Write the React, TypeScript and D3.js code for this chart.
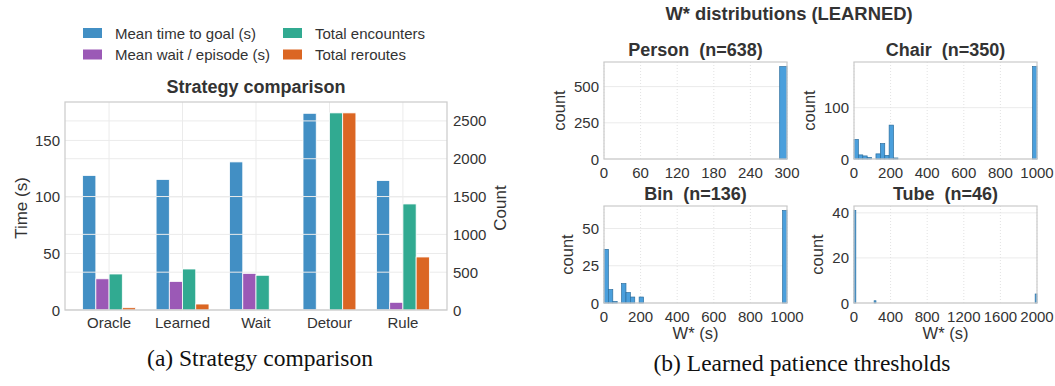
import React from 'react';
import * as d3 from 'd3';

// ---- data: strategy comparison ----
const strategies = ['Oracle', 'Learned', 'Wait', 'Detour', 'Rule'];
const meanTimeToGoal = [119, 115.5, 131, 174, 114.5];
const meanWaitPerEpisode = [27.6, 25.3, 32.4, 0, 6.8];
const totalEncounters = [476, 542, 459, 2606, 1402];
const totalReroutes = [30, 79, 0, 2606, 701];

const leftTicks = [0, 50, 100, 150];
const rightTicks = [0, 500, 1000, 1500, 2000, 2500];

// ---- data: W* histograms, [binStart, binEnd, count] ----
const personBins = [[288, 300, 638]];
const chairBins = [
  [0, 24, 38], [24, 48, 8], [48, 72, 6], [72, 96, 3], [120, 144, 10],
  [144, 168, 30], [168, 192, 7], [192, 216, 66], [216, 240, 2], [976, 1000, 180],
];
const binBins = [
  [0, 24, 36], [24, 48, 9], [48, 72, 1], [96, 120, 13], [120, 144, 7],
  [144, 168, 4], [192, 216, 4], [976, 1000, 62],
];
const tubeBins = [[0, 20, 41], [220, 240, 1], [1980, 2000, 4]];

const personXTicks = [0, 60, 120, 180, 240, 300];
const wideXTicks = [0, 200, 400, 600, 800, 1000];
const tubeXTicks = [0, 400, 800, 1200, 1600, 2000];

const FONT = '"Liberation Sans", Arial, sans-serif';
const SERIF = '"Liberation Serif", "Times New Roman", serif';
const TXT = '#333333';
const SPINE = '#cccccc';
const GRID = '#ebebeb';

const colors = {
  time: '#428fc4',
  wait: '#9b59b6',
  enc: '#31aa91',
  rer: '#db6623',
};

function StrategyChart() {
  const L = 65, R = 447, T = 102, B = 310;
  const x = d3.scaleLinear().domain([-0.6, 4.6]).range([L, R]);
  const yL = d3.scaleLinear().domain([0, 184]).range([B, T]);
  const yR = d3.scaleLinear().domain([0, 2750]).range([B, T]);
  const bw = 0.18;
  const w = x(bw) - x(0);

  const bar = (vals: number[], off: number, y: d3.ScaleLinear<number, number>, c: string, key: string) =>
    vals.map((v, i) => (
      <rect key={key + i} x={x(i + off) - w / 2} y={y(v)} width={w} height={B - y(v)}
        fill={c} stroke="#fff" strokeWidth={0.8} />
    ));

  const legend = [
    { label: 'Mean time to goal (s)', c: colors.time, x: 83, y: 33 },
    { label: 'Mean wait / episode (s)', c: colors.wait, x: 83, y: 54.5 },
    { label: 'Total encounters', c: colors.enc, x: 283, y: 33 },
    { label: 'Total reroutes', c: colors.rer, x: 283, y: 54.5 },
  ];

  return (
    <g fontFamily={FONT}>
      {legend.map((l) => (
        <g key={l.label}>
          <rect x={l.x} y={l.y - 5} width={19} height={10} fill={l.c} />
          <text x={l.x + 32} y={l.y + 5.5} fontSize={15} fill={TXT}>{l.label}</text>
        </g>
      ))}
      <text x={256} y={93} textAnchor="middle" fontSize={18} fontWeight="bold" fill={TXT}>
        Strategy comparison
      </text>

      {/* grid */}
      {leftTicks.map((t) => (
        <line key={'gl' + t} x1={L} x2={R} y1={yL(t)} y2={yL(t)} stroke={GRID} strokeWidth={1} />
      ))}
      {strategies.map((s, i) => (
        <line key={'gv' + s} x1={x(i)} x2={x(i)} y1={T} y2={B} stroke={GRID} strokeWidth={1} />
      ))}

      {bar(meanTimeToGoal, -0.27, yL, colors.time, 't')}
      {bar(meanWaitPerEpisode, -0.09, yL, colors.wait, 'w')}

      {/* twin axis grid drawn above left bars */}
      {rightTicks.map((t) => (
        <line key={'gr' + t} x1={L} x2={R} y1={yR(t)} y2={yR(t)} stroke={GRID} strokeWidth={1} />
      ))}

      {bar(totalEncounters, 0.09, yR, colors.enc, 'e')}
      {bar(totalReroutes, 0.27, yR, colors.rer, 'r')}

      <rect x={L} y={T} width={R - L} height={B - T} fill="none" stroke={SPINE} strokeWidth={1.25} />

      {leftTicks.map((t) => (
        <text key={'lt' + t} x={L - 5} y={yL(t) + 5.5} textAnchor="end" fontSize={15} fill={TXT}>{t}</text>
      ))}
      {rightTicks.map((t) => (
        <text key={'rt' + t} x={R + 6} y={yR(t) + 5.5} fontSize={15} fill={TXT}>{t}</text>
      ))}
      {strategies.map((s, i) => (
        <text key={'xt' + s} x={x(i)} y={328} textAnchor="middle" fontSize={15} fill={TXT}>{s}</text>
      ))}
      <text transform={`translate(26.5,${(T + B) / 2 + 2}) rotate(-90)`} textAnchor="middle" fontSize={17} fill={TXT}>
        Time (s)
      </text>
      <text transform={`translate(506,${(T + B) / 2 + 2}) rotate(-90)`} textAnchor="middle" fontSize={17} fill={TXT}>
        Count
      </text>

      <text x={260} y={366} textAnchor="middle" fontFamily={SERIF} fontSize={23.5} fill="#111">
        (a) Strategy comparison
      </text>
    </g>
  );
}

type HistProps = {
  title: string;
  bins: number[][];
  xMax: number;
  xTicks: number[];
  yTicks: number[];
  left: number;
  top: number;
  xLabel?: boolean;
};

function Histogram({ title, bins, xMax, xTicks, yTicks, left, top, xLabel }: HistProps) {
  const width = 183, height = 97;
  const L = left, R = left + width, T = top, B = top + height;
  const maxCount = d3.max(bins, (b) => b[2]) as number;
  const x = d3.scaleLinear().domain([0, xMax]).range([L, R]);
  const y = d3.scaleLinear().domain([0, maxCount * 1.05]).range([B, T]);
  const digits = d3.max(yTicks, (t) => String(t).length) as number;

  return (
    <g fontFamily={FONT}>
      <text x={(L + R) / 2} y={T - 6} textAnchor="middle" fontSize={18} fontWeight="bold" fill={TXT}
        style={{ whiteSpace: 'pre' }}>
        {title}
      </text>
      {yTicks.map((t) => (
        <line key={'hy' + t} x1={L} x2={R} y1={y(t)} y2={y(t)} stroke={GRID} strokeWidth={1} />
      ))}
      {xTicks.map((t) => (
        <line key={'hx' + t} x1={x(t)} x2={x(t)} y1={T} y2={B} stroke="#e2e2e2" strokeWidth={1} strokeDasharray="1,2" />
      ))}
      {bins.map((b, i) => (
        <rect key={i} x={x(b[0])} y={y(b[2])} width={x(b[1]) - x(b[0])} height={B - y(b[2])}
          fill="#4a9fdc" stroke="#2c6e9e" strokeWidth={0.7} />
      ))}
      <rect x={L} y={T} width={width} height={height} fill="none" stroke={SPINE} strokeWidth={1.25} />
      {yTicks.map((t) => (
        <text key={'yl' + t} x={L - 5} y={y(t) + 5.5} textAnchor="end" fontSize={15} fill={TXT}>{t}</text>
      ))}
      {xTicks.map((t) => (
        <text key={'xl' + t} x={x(t)} y={B + 18.5} textAnchor="middle" fontSize={15} fill={TXT}>{t}</text>
      ))}
      <text transform={`translate(${L - 14 - digits * 8.34},${(T + B) / 2}) rotate(-90)`}
        textAnchor="middle" fontSize={16.5} fill={TXT}>
        count
      </text>
      {xLabel && (
        <text x={(L + R) / 2} y={B + 35.5} textAnchor="middle" fontSize={16.5} fill={TXT}>W* (s)</text>
      )}
    </g>
  );
}

export default function App() {
  return (
    <svg width={1055} height={386} style={{ position: 'absolute', left: 0, top: 0, background: '#fff' }}>
      <StrategyChart />
      <text x={789} y={20} textAnchor="middle" fontFamily={FONT} fontSize={18.4} fontWeight="bold" fill={TXT}>
        W* distributions (LEARNED)
      </text>
      <Histogram title="Person  (n=638)" bins={personBins} xMax={300} xTicks={personXTicks}
        yTicks={[0, 250, 500]} left={604} top={62} />
      <Histogram title="Chair  (n=350)" bins={chairBins} xMax={1000} xTicks={wideXTicks}
        yTicks={[0, 100]} left={854} top={62} />
      <Histogram title="Bin  (n=136)" bins={binBins} xMax={1000} xTicks={wideXTicks}
        yTicks={[0, 25, 50]} left={604} top={206} xLabel />
      <Histogram title="Tube  (n=46)" bins={tubeBins} xMax={2000} xTicks={tubeXTicks}
        yTicks={[0, 20, 40]} left={854} top={206} xLabel />
      <text x={802} y={371} textAnchor="middle" fontFamily={SERIF} fontSize={23.5} fill="#111">
        (b) Learned patience thresholds
      </text>
    </svg>
  );
}
